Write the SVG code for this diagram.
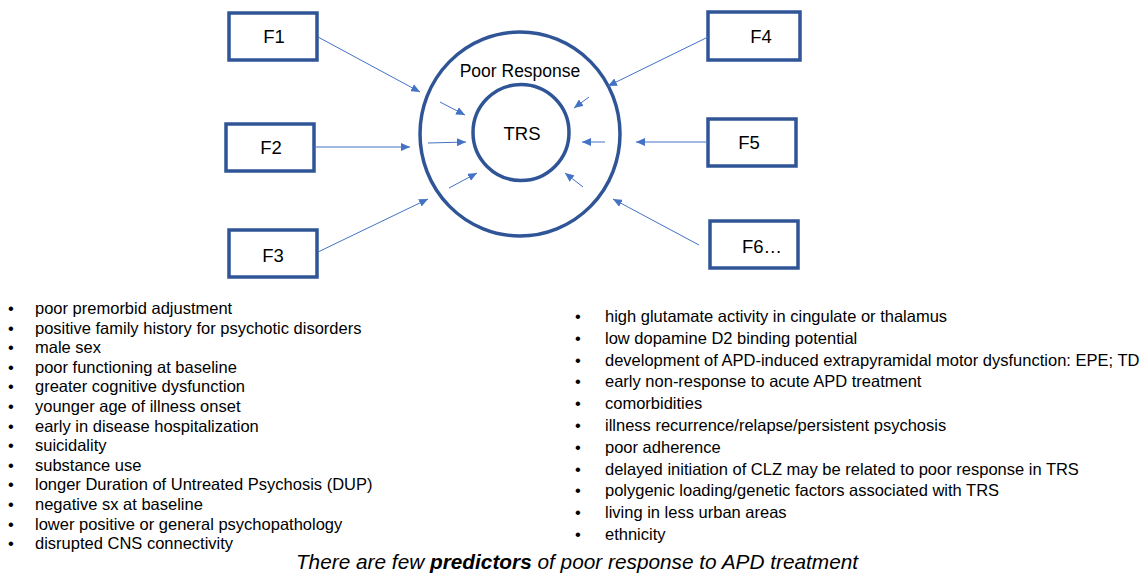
<svg xmlns="http://www.w3.org/2000/svg" width="1146" height="575" viewBox="0 0 1146 575">
<style>
.box{fill:#fff;stroke:#2F5597;stroke-width:3.5}
.ring{fill:none;stroke:#2F5597;stroke-width:3.5}
.lbl{font-family:"Liberation Sans",Arial,sans-serif;font-size:18.5px;fill:#000;text-anchor:middle}
.conn line{stroke:#4472C4;stroke-width:1;marker-end:url(#ah)}
.lst{font-family:"Liberation Sans",Arial,sans-serif;font-size:16.5px;fill:#000}
.cap{font-family:"Liberation Sans",Arial,sans-serif;font-size:20.8px;font-style:italic;fill:#000;text-anchor:middle}
</style>
<defs>
<marker id="ah" markerUnits="userSpaceOnUse" markerWidth="10" markerHeight="8" refX="9" refY="4" orient="auto">
<path d="M0,0 L9,4 L0,8 Z" fill="#4472C4"/>
</marker>
</defs>
<rect width="1146" height="575" fill="#fff"/>
<g id="poor-response">
<ellipse class="ring" cx="520" cy="134" rx="100" ry="102"/>
<text class="lbl" x="520" y="77" style="font-size:17.5px">Poor Response</text>
</g>
<g id="trs">
<circle class="ring" cx="521" cy="132.5" r="48"/>
<text class="lbl" x="522" y="140">TRS</text>
</g>
<g id="f1"><rect class="box" x="229" y="13" width="88" height="47"/><text class="lbl" x="274" y="43">F1</text></g>
<g id="f2"><rect class="box" x="226" y="124" width="88" height="47"/><text class="lbl" x="271" y="154">F2</text></g>
<g id="f3"><rect class="box" x="229" y="230" width="88" height="47"/><text class="lbl" x="273" y="262">F3</text></g>
<g id="f4"><rect class="box" x="708" y="12" width="92" height="48"/><text class="lbl" x="761" y="43">F4</text></g>
<g id="f5"><rect class="box" x="708" y="119" width="88" height="47"/><text class="lbl" x="749" y="149">F5</text></g>
<g id="f6"><rect class="box" x="710" y="221" width="88" height="47"/><text class="lbl" x="762" y="253">F6…</text></g>
<g class="conn" id="connectors">
<line x1="318" y1="37" x2="420" y2="92"/>
<line x1="314" y1="147" x2="410" y2="147"/>
<line x1="318" y1="252" x2="428" y2="199"/>
<line x1="440" y1="102" x2="465" y2="115"/>
<line x1="428" y1="143" x2="466" y2="142"/>
<line x1="449" y1="188" x2="477" y2="173"/>
<line x1="589" y1="97" x2="574" y2="108"/>
<line x1="605" y1="142" x2="582" y2="142"/>
<line x1="583" y1="187" x2="565" y2="173"/>
<line x1="708" y1="37" x2="608" y2="86"/>
<line x1="708" y1="142" x2="636" y2="142"/>
<line x1="699" y1="245" x2="613" y2="199"/>
</g>
<g id="left-list" class="lst">
<text x="8" y="314">•</text><text x="35" y="314">poor premorbid adjustment</text>
<text x="8" y="333.6">•</text><text x="35" y="333.6">positive family history for psychotic disorders</text>
<text x="8" y="353.2">•</text><text x="35" y="353.2">male sex</text>
<text x="8" y="372.8">•</text><text x="35" y="372.8">poor functioning at baseline</text>
<text x="8" y="392.4">•</text><text x="35" y="392.4">greater cognitive dysfunction</text>
<text x="8" y="412">•</text><text x="35" y="412">younger age of illness onset</text>
<text x="8" y="431.6">•</text><text x="35" y="431.6">early in disease hospitalization</text>
<text x="8" y="451.2">•</text><text x="35" y="451.2">suicidality</text>
<text x="8" y="470.8">•</text><text x="35" y="470.8">substance use</text>
<text x="8" y="490.4">•</text><text x="35" y="490.4">longer Duration of Untreated Psychosis (DUP)</text>
<text x="8" y="510">•</text><text x="35" y="510">negative sx at baseline</text>
<text x="8" y="529.6">•</text><text x="35" y="529.6">lower positive or general psychopathology</text>
<text x="8" y="549.2">•</text><text x="35" y="549.2">disrupted CNS connectivity</text>
</g>
<g id="right-list" class="lst">
<text x="575" y="322">•</text><text x="605" y="322">high glutamate activity in cingulate or thalamus</text>
<text x="575" y="343.8">•</text><text x="605" y="343.8">low dopamine D2 binding potential</text>
<text x="575" y="365.6">•</text><text x="605" y="365.6">development of APD-induced extrapyramidal motor dysfunction: EPE; TD</text>
<text x="575" y="387.4">•</text><text x="605" y="387.4">early non-response to acute APD treatment</text>
<text x="575" y="409.2">•</text><text x="605" y="409.2">comorbidities</text>
<text x="575" y="431">•</text><text x="605" y="431">illness recurrence/relapse/persistent psychosis</text>
<text x="575" y="452.8">•</text><text x="605" y="452.8">poor adherence</text>
<text x="575" y="474.6">•</text><text x="605" y="474.6">delayed initiation of CLZ may be related to poor response in TRS</text>
<text x="575" y="496.4">•</text><text x="605" y="496.4">polygenic loading/genetic factors associated with TRS</text>
<text x="575" y="518.2">•</text><text x="605" y="518.2">living in less urban areas</text>
<text x="575" y="540">•</text><text x="605" y="540">ethnicity</text>
</g>
<text class="cap" x="577" y="569">There are few <tspan font-weight="bold">predictors</tspan> of poor response to APD treatment</text>
</svg>
